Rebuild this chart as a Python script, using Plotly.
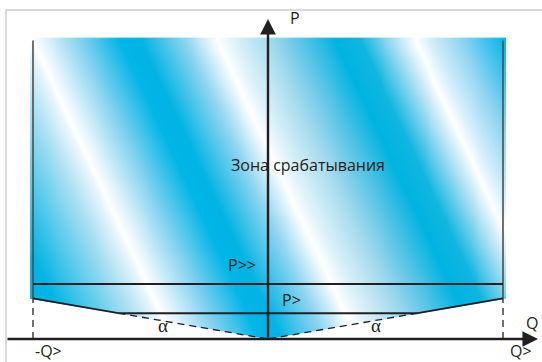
import numpy as np
import plotly.graph_objects as go

# Диаграмма в относительных единицах: Q> = 1
Q_LIMIT = 1.0
P_HIGH = 0.234          # уставка P>>
P_LOW = 0.11            # уставка P>
ALPHA_DEG = 9.8         # угол наклона характеристики
ZONE_TOP = 1.27         # верх зоны срабатывания

# diagonal stripes of the zone fill: position along the diagonal and colour
STRIPE_POS = [-1.75, -1.438, -1.14, -1.034, -1.004, -0.949, -0.8, -0.63, -0.545,
              -0.353, -0.247, -0.217, -0.153, 0.0, 0.136, 0.285, 0.391, 0.54,
              0.604, 0.626, 0.681, 0.817, 1.0]
STRIPE_COL = ["#00b4e4", "#00b4e4", "#a8e0f2", "#e6f6fc", "#ffffff", "#e0f4fb",
              "#80d2ee", "#00b6e6", "#00b4e4", "#8ed6ef", "#e8f7fc", "#ffffff",
              "#dff3fa", "#a5dbed", "#5cc6e6", "#00b4e0", "#10b6e0", "#b0e2f2",
              "#eaf8fd", "#ffffff", "#d8f1fb", "#90d5f2", "#0bb6ea"]

LABELS = {"P": "P", "Q": "Q", "Q_pos": "Q>", "Q_neg": "-Q>",
          "zone": "Зона срабатывания", "P_high": "P>>", "P_low": "P>", "alpha": "α"}

INK = "#231f20"
EDGE = "#4d4d4d"
FONT = "Open Sans"
SLANT = 0.47            # наклон полос

tan_a = np.tan(np.radians(ALPHA_DEG))
corner = Q_LIMIT * tan_a
x_cut = P_LOW / tan_a

# zone fill as a smooth heatmap, coloured along the diagonal
xs = np.linspace(-Q_LIMIT, Q_LIMIT, 81)
ys = np.linspace(0, ZONE_TOP, 52)
gx, gy = np.meshgrid(xs, ys)
diag = gx + SLANT * (gy - ZONE_TOP)
lo, hi = STRIPE_POS[0], STRIPE_POS[-1]
scale = [[(p - lo) / (hi - lo), c] for p, c in zip(STRIPE_POS, STRIPE_COL)]

fig = go.Figure(go.Heatmap(
    x=xs, y=ys, z=diag, zmin=lo, zmax=hi, colorscale=scale,
    zsmooth="best", showscale=False, hoverinfo="skip",
))

# white mask under the V-shaped bottom edge
fig.add_shape(type="path", line_width=0, fillcolor="white",
              path=f"M {-Q_LIMIT - 0.02},{corner} L 0,0 L {Q_LIMIT + 0.02},{corner} "
                   f"L {Q_LIMIT + 0.02},-0.05 L {-Q_LIMIT - 0.02},-0.05 Z")

# frame
fig.add_shape(type="line", x0=-1.115, x1=-1.115, y0=-0.2, y1=1.40,
              line=dict(color="#b3b3b3", width=1))
fig.add_shape(type="line", x0=-1.115, x1=1.3, y0=1.40, y1=1.40,
              line=dict(color="#b3b3b3", width=1))

# zone borders
for s in (-1, 1):
    fig.add_shape(type="line", x0=s * Q_LIMIT, x1=s * Q_LIMIT, y0=corner, y1=ZONE_TOP,
                  line=dict(color=EDGE, width=1.6))
    fig.add_shape(type="line", x0=s * Q_LIMIT, x1=s * Q_LIMIT, y0=0, y1=corner,
                  line=dict(color=EDGE, width=1.6, dash="7px,5px"))
    fig.add_shape(type="line", x0=s * Q_LIMIT, x1=s * x_cut, y0=corner, y1=P_LOW,
                  line=dict(color=INK, width=1.6))
    fig.add_shape(type="line", x0=s * x_cut, x1=0, y0=P_LOW, y1=0,
                  line=dict(color=INK, width=1.3, dash="7px,5px"))
    # angle arc
    r = 0.29 if s < 0 else 0.31
    t = np.radians(np.linspace(0, ALPHA_DEG, 8))
    fig.add_trace(go.Scatter(x=s * r * np.cos(t), y=r * np.sin(t), mode="lines",
                             line=dict(color=INK, width=1), hoverinfo="skip",
                             showlegend=False))

fig.add_shape(type="line", x0=-Q_LIMIT, x1=Q_LIMIT, y0=P_HIGH, y1=P_HIGH,
              line=dict(color=INK, width=2))
fig.add_shape(type="line", x0=-x_cut, x1=x_cut, y0=P_LOW, y1=P_LOW,
              line=dict(color=INK, width=2))

# axes with arrows
arrow = dict(xref="x", yref="y", axref="x", ayref="y", text="", showarrow=True,
             arrowhead=2, arrowsize=1.3, arrowwidth=2.4, arrowcolor=INK)
fig.add_annotation(x=0, y=1.362, ax=0, ay=0, **arrow)
fig.add_annotation(x=1.149, y=0, ax=-1.115, ay=0, **arrow)

text = dict(showarrow=False, font=dict(family=FONT, size=16, color=INK))
greek = dict(showarrow=False, font=dict(family="Liberation Serif", size=19, color=INK))
fig.add_annotation(x=0.085, y=1.366, text=LABELS["P"], xanchor="left", **text)
fig.add_annotation(x=1.123, y=0.07, text=LABELS["Q"], **text)
fig.add_annotation(x=1.077, y=-0.052, text=LABELS["Q_pos"], **text)
fig.add_annotation(x=-0.936, y=-0.052, text=LABELS["Q_neg"], **text)
fig.add_annotation(x=0.17, y=0.74, text=LABELS["zone"], **text)
fig.add_annotation(x=-0.043, y=0.315, text=LABELS["P_high"], xanchor="right", **text)
fig.add_annotation(x=0.051, y=0.166, text=LABELS["P_low"], xanchor="left", **text)
fig.add_annotation(x=-0.447, y=0.057, text=LABELS["alpha"], **greek)
fig.add_annotation(x=0.46, y=0.057, text=LABELS["alpha"], **greek)

fig.update_xaxes(range=[-268 / 235, 274 / 235], visible=False, fixedrange=True)
fig.update_yaxes(range=[-23 / 235, 339 / 235], visible=False, fixedrange=True)
fig.update_layout(
    width=542, height=362,
    margin=dict(l=0, r=0, t=0, b=0),
    paper_bgcolor="white", plot_bgcolor="white",
    showlegend=False,
)

# page body has a default 8px margin; drop it so the figure fills the window
fig.write_html("out.html", config={"displayModeBar": False},
               post_script="document.body.style.margin = '0';")
